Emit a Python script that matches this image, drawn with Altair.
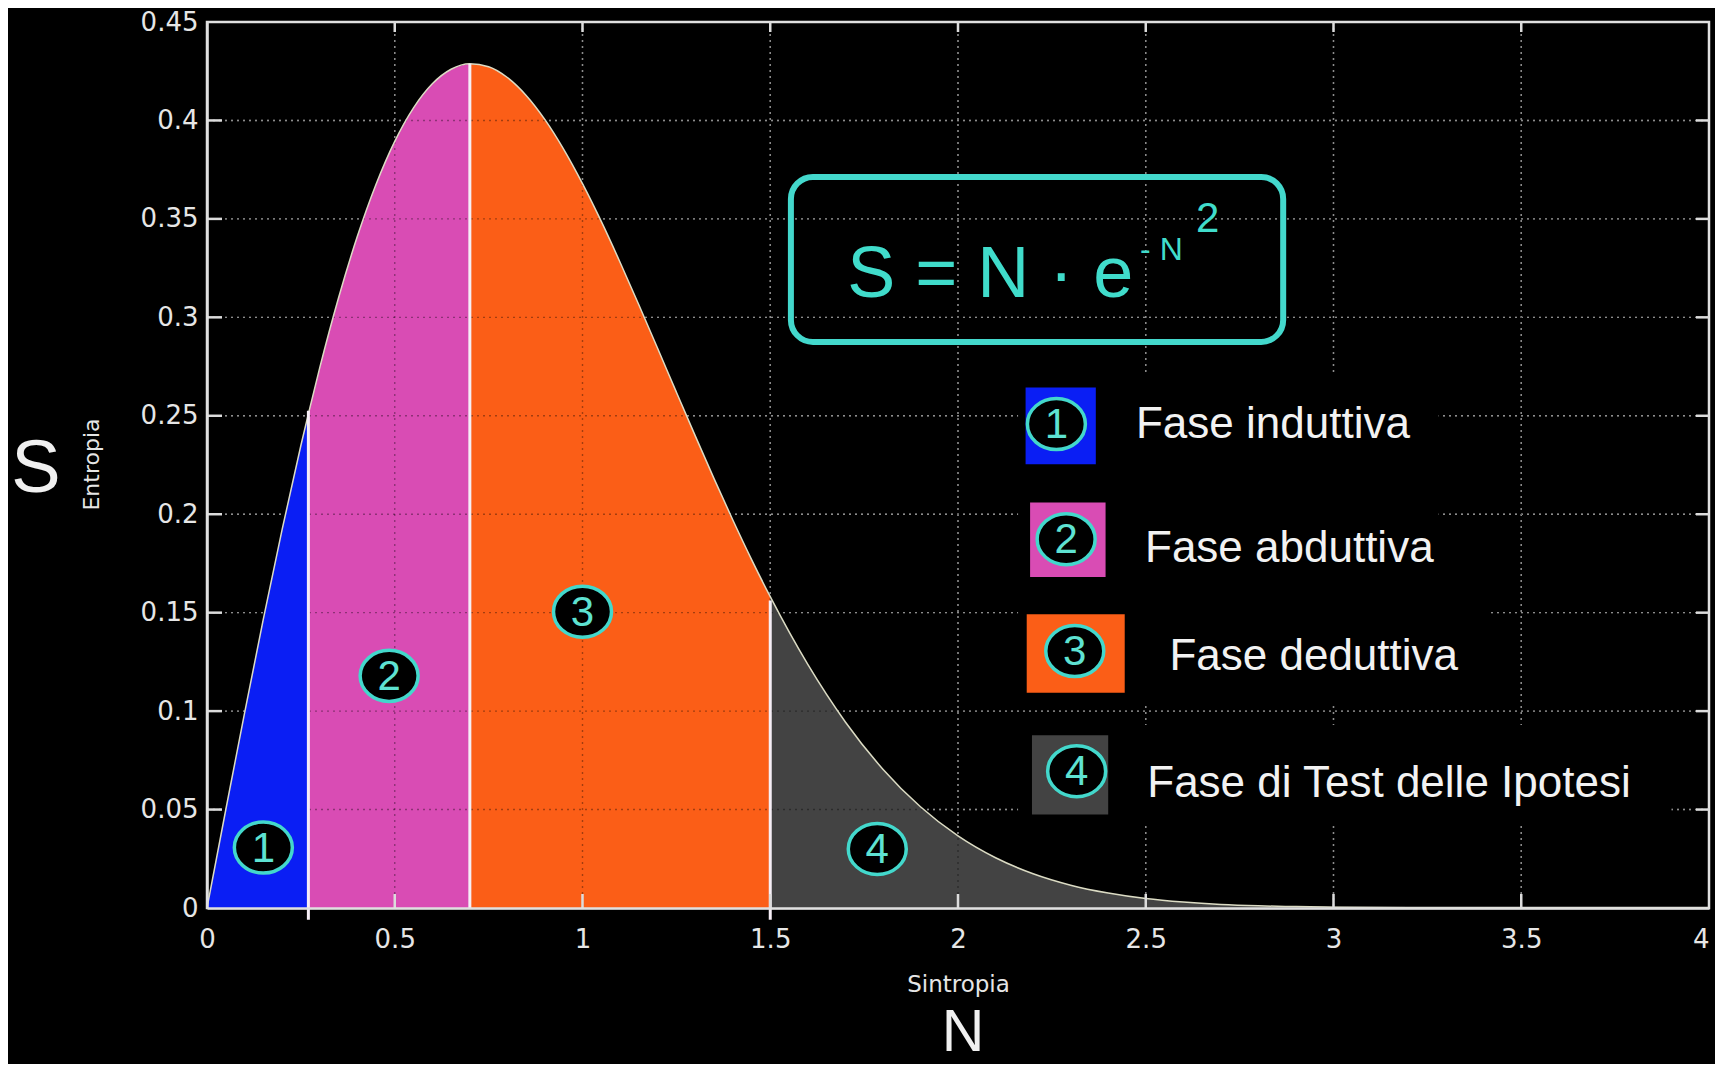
import altair as alt
import pandas as pd

# ---- curve S = N·e^(-N²) ----
N_vals = [0, 0.05, 0.1, 0.15, 0.2, 0.25, 0.27, 0.3, 0.35, 0.4, 0.45, 0.5, 0.55, 0.6, 0.65, 0.7,
          0.75, 0.8, 0.85, 0.9, 0.95, 1.0, 1.05, 1.1, 1.15, 1.2, 1.25, 1.3, 1.35, 1.4, 1.45, 1.5,
          1.6, 1.7, 1.8, 1.9, 2.0, 2.1, 2.2, 2.3, 2.4, 2.5, 2.6, 2.7, 2.8, 2.9, 3.0, 3.2, 3.5, 4.0]
S_vals = [0, 0.0499, 0.0990, 0.1467, 0.1922, 0.2349, 0.2510, 0.2742, 0.3097, 0.3409, 0.3675,
          0.3894, 0.4064, 0.4186, 0.4260, 0.4288, 0.4273, 0.4218, 0.4127, 0.4004, 0.3853, 0.3679,
          0.3487, 0.3280, 0.3064, 0.2843, 0.2620, 0.2399, 0.2182, 0.1972, 0.1771, 0.1581,
          0.1237, 0.0945, 0.0705, 0.0514, 0.0366, 0.0255, 0.0174, 0.0116, 0.0076, 0.0048,
          0.0030, 0.0018, 0.0011, 0.0007, 0.0004, 0.0001, 0.0, 0.0]

phases = ["Fase induttiva", "Fase abduttiva", "Fase deduttiva", "Fase di Test delle Ipotesi"]
phase_nums = ["1", "2", "3", "4"]
phase_colors = ["#0a1ef4", "#d94cb4", "#fb5e17", "#434343"]
phase_bounds = [0.0, 0.27, 0.70, 1.5, 4.0]

# white separators between phases
sep_N = [0.27, 0.70, 1.5]
sep_top = [0.2526, 0.4288, 0.1562]
sep_bottom = [-0.006, 0.0, -0.006]

x_ticks = [0, 0.5, 1, 1.5, 2, 2.5, 3, 3.5, 4]
y_ticks = [0, 0.05, 0.1, 0.15, 0.2, 0.25, 0.3, 0.35, 0.4, 0.45]

# numbered markers inside the regions
mark_N = [0.150, 0.485, 1.0, 1.785]
mark_S = [0.0307, 0.1179, 0.1505, 0.0300]

# legend
leg_box_N0 = [2.180, 2.192, 2.183, 2.197]
leg_box_N1 = [2.367, 2.393, 2.444, 2.400]
leg_box_S0 = [0.2254, 0.1681, 0.1093, 0.0475]
leg_box_S1 = [0.2644, 0.2059, 0.1492, 0.0878]
leg_circ_N = [2.262, 2.288, 2.311, 2.316]
leg_circ_S = [0.2458, 0.1873, 0.1305, 0.0695]
leg_text_N = [2.474, 2.498, 2.563, 2.504]
leg_text_S = [0.2385, 0.1758, 0.1211, 0.0564]
mask_N0 = [2.16, 2.16, 2.16]
mask_N1 = [3.28, 3.41, 3.90]
mask_S0 = [0.160, 0.104, 0.042]
mask_S1 = [0.272, 0.160, 0.093]

# formula
formula_main, formula_exp, formula_sq = "S = N · e", "- N", "2"
formula_N = [1.705, 2.485, 2.634]
formula_S = [0.3103, 0.3291, 0.3433]
box_N = [1.555, 2.866]
box_S = [0.2875, 0.3713]

CYAN = "#43d8cc"
ELLIPSE = "M -1 0 A 1 0.88 0 1 0 1 0 A 1 0.88 0 1 0 -1 0 Z"
lab_font = "DejaVu Sans"

xs = alt.Scale(domain=[0, 4], nice=False, zero=False)
ys = alt.Scale(domain=[0, 0.45], nice=False, zero=False)
cs = alt.Scale(domain=phases, range=phase_colors)

x_axis = alt.Axis(values=x_ticks, format="~g", grid=False, ticks=False, domain=True,
                  domainColor="#e0e0e0", domainWidth=2.5, labelFont=lab_font, labelFontSize=26,
                  labelColor="#e6e6e6", labelPadding=18, labelFlush=False, labelOverlap=False,
                  labelAlign=alt.condition("datum.value == 4", alt.value("right"), alt.value("center")),
                  title="Sintropia", titleFont=lab_font, titleFontSize=23, titleFontWeight="normal",
                  titleColor="#e6e6e6", titleY=76, titleBaseline="middle", zindex=1)
y_axis = alt.Axis(values=y_ticks, format="~g", grid=False, ticks=False, domain=True,
                  domainColor="#e0e0e0", domainWidth=2.5, labelFont=lab_font, labelFontSize=26,
                  labelColor="#e6e6e6", labelPadding=9, labelFlush=False, labelOverlap=False,
                  title="Entropia", titleFont=lab_font, titleFontSize=22, titleFontWeight="normal",
                  titleColor="#e6e6e6", titleX=-116, titleY=442, titleAngle=270,
                  titleAlign="center", titleBaseline="middle", zindex=1)


def X(f):
    return alt.X(f, scale=xs, axis=x_axis)


def Y(f, **kw):
    return alt.Y(f, scale=ys, axis=y_axis, **kw)


rows = []
for i, ph in enumerate(phases):
    lo, hi = phase_bounds[i], phase_bounds[i + 1]
    for n, s in zip(N_vals, S_vals):
        if lo - 1e-9 <= n <= hi + 1e-9:
            rows.append({"N": n, "S": s, "phase": ph})
df_reg = pd.DataFrame(rows)
df_curve = pd.DataFrame({"N": N_vals, "S": S_vals})

gh = pd.DataFrame({"v": y_ticks[1:-1]})
gv = pd.DataFrame({"v": x_ticks[1:-1]})


def grid(color, opacity):
    h = alt.Chart(gh).mark_rule(color=color, opacity=opacity, strokeWidth=1.4,
                                strokeDash=[2, 4]).encode(y=Y("v:Q"))
    v = alt.Chart(gv).mark_rule(color=color, opacity=opacity, strokeWidth=1.4,
                                strokeDash=[2, 4]).encode(x=X("v:Q"))
    return [h, v]


fills = alt.Chart(df_reg).transform_filter(alt.datum.phase != phases[0]).mark_area(
    interpolate="monotone", opacity=1).encode(
    x=X("N:Q"), y=Y("S:Q", stack=None),
    color=alt.Color("phase:N", scale=cs, legend=None),
)
blue = alt.Chart(df_reg).transform_filter(alt.datum.phase == phases[0]).mark_area(
    interpolate="monotone", opacity=1).encode(
    x=X("N:Q"), y=Y("S:Q", stack=None),
    color=alt.Color("phase:N", scale=cs, legend=None),
)
curve = alt.Chart(df_curve).mark_line(color="#dcdcc4", strokeWidth=1.5,
                                      interpolate="monotone").encode(x=X("N:Q"), y=Y("S:Q"))

seps = alt.Chart(pd.DataFrame({"N": sep_N, "top": sep_top, "bot": sep_bottom})).mark_rule(
    color="#f6eef6", strokeWidth=3).encode(x=X("N:Q"), y=Y("top:Q"), y2="bot:Q")

masks = alt.Chart(pd.DataFrame({"a": mask_N0, "b": mask_N1, "c": mask_S0, "d": mask_S1})).mark_rect(
    color="black").encode(x=X("a:Q"), x2="b:Q", y=Y("c:Q"), y2="d:Q")

leg_boxes = alt.Chart(pd.DataFrame({"a": leg_box_N0, "b": leg_box_N1, "c": leg_box_S0,
                                    "d": leg_box_S1, "phase": phases})).mark_rect(opacity=1).encode(
    x=X("a:Q"), x2="b:Q", y=Y("c:Q"), y2="d:Q",
    color=alt.Color("phase:N", scale=cs, legend=None))

fbox = alt.Chart(pd.DataFrame({"a": [box_N[0]], "b": [box_N[1]], "c": [box_S[0]], "d": [box_S[1]]})).mark_rect(
    filled=False, color=CYAN, strokeWidth=6, cornerRadius=22).encode(
    x=X("a:Q"), x2="b:Q", y=Y("c:Q"), y2="d:Q")

df_circ = pd.DataFrame({"N": mark_N + leg_circ_N, "S": mark_S + leg_circ_S,
                        "t": phase_nums + phase_nums})
circles = alt.Chart(df_circ).mark_point(shape=ELLIPSE, size=3364, filled=True, fill="black",
                                        stroke=CYAN, strokeWidth=3.5, opacity=1).encode(
    x=X("N:Q"), y=Y("S:Q"))
digits = alt.Chart(df_circ).mark_text(font="Liberation Sans", fontSize=42, color="#5ee2d2",
                                      align="center", baseline="middle", dy=1).encode(
    x=X("N:Q"), y=Y("S:Q"), text="t:N")

leg_text = alt.Chart(pd.DataFrame({"N": leg_text_N, "S": leg_text_S, "t": phases})).mark_text(
    font="Liberation Sans", fontSize=44, color="#f2f2f2", align="left", baseline="alphabetic").encode(
    x=X("N:Q"), y=Y("S:Q"), text="t:N")


def ftext(txt, n, s, size):
    return alt.Chart(pd.DataFrame({"N": [n], "S": [s], "t": [txt]})).mark_text(
        font="Liberation Sans", fontSize=size, color="#40dccb", align="left",
        baseline="alphabetic").encode(x=X("N:Q"), y=Y("S:Q"), text="t:N")


formula = [ftext(formula_main, formula_N[0], formula_S[0], 72),
           ftext(formula_exp, formula_N[1], formula_S[1], 32),
           ftext(formula_sq, formula_N[2], formula_S[2], 42)]

TICK = "#dcdcdc"
ty = pd.DataFrame({"v": y_ticks[1:-1]})
tx = pd.DataFrame({"v": x_ticks[1:-1]})
ticks = [
    alt.Chart(ty).mark_rule(color=TICK, strokeWidth=2.5, x2Offset=15).encode(
        y=Y("v:Q"), x=alt.XDatum(0, axis=x_axis), x2=alt.X2Datum(0)),
    alt.Chart(ty).mark_rule(color=TICK, strokeWidth=2.5, x2Offset=-13).encode(
        y=Y("v:Q"), x=alt.XDatum(4, axis=x_axis), x2=alt.X2Datum(4)),
    alt.Chart(tx).mark_rule(color=TICK, strokeWidth=2.5, y2Offset=-14).encode(
        x=X("v:Q"), y=alt.YDatum(0, axis=y_axis), y2=alt.Y2Datum(0)),
    alt.Chart(tx).mark_rule(color=TICK, strokeWidth=2.5, y2Offset=10).encode(
        x=X("v:Q"), y=alt.YDatum(0.45, axis=y_axis), y2=alt.Y2Datum(0.45)),
]

big_S = alt.Chart(pd.DataFrame({"t": ["S"]})).mark_text(
    font="Liberation Sans", fontSize=74, color="#f0f0f0", align="center", baseline="alphabetic").encode(
    x=alt.value(-171), y=alt.value(470), text="t:N")
big_N = alt.Chart(pd.DataFrame({"t": ["N"]})).mark_text(
    font="Liberation Sans", fontSize=59, color="#f0f0f0", align="center", baseline="alphabetic").encode(
    x=alt.value(756), y=alt.value(1029), text="t:N")

layers = (grid("#d8d8d8", 1) + [fills] + grid("black", 0.35) + [blue, curve, seps, masks, leg_boxes,
          fbox, circles, digits, leg_text] + formula + ticks + [big_S, big_N])

chart = alt.layer(*layers).properties(
    width=1502, height=886,
    autosize=alt.AutoSizeParams(type="none"),
    padding={"left": 199, "top": 14, "right": 6, "bottom": 156},
).configure(background="black").configure_view(stroke="#e0e0e0", strokeWidth=2.5)

chart.save("out.html", embed_options={"renderer": "svg", "actions": False})
